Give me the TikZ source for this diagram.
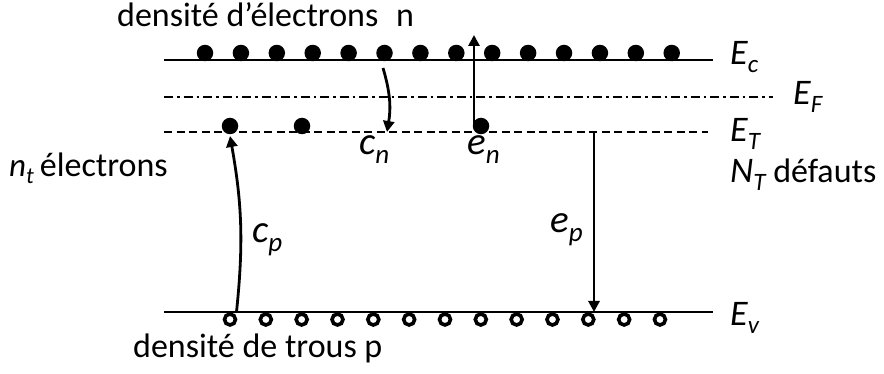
\documentclass[tikz,border=0pt]{standalone}
\usepackage{fontspec}
\setmainfont{Carlito}
\usetikzlibrary{arrows.meta}
\newcommand{\elab}[2]{{\fontsize{36}{36}\selectfont\itshape #1\raisebox{-8pt}{\fontsize{25}{25}\selectfont #2}}}
\newcommand{\nlab}[2]{{\fontsize{33}{33}\selectfont\itshape #1\raisebox{-7pt}{\fontsize{23}{23}\selectfont #2}}}
\newcommand{\clab}[2]{{\fontsize{39}{39}\selectfont\itshape #1\raisebox{-9pt}{\fontsize{27}{27}\selectfont #2}}}
\begin{document}
\begin{tikzpicture}[x=1pt,y=-1pt,
  level/.style={line width=2.6pt},
  txt/.style={anchor=base west,inner sep=0pt,font=\fontsize{34}{40}\selectfont},
  lab/.style={anchor=base west,inner sep=0pt},
  edot/.style={circle,fill=black,inner sep=0pt,minimum size=16.5pt},
  hole/.style={circle,draw=black,line width=3.6pt,fill=white,inner sep=0pt,minimum size=11pt},
  arr/.style={line width=2.8pt,-{Triangle[length=11pt,width=11pt]}}]
\useasboundingbox (0,0) rectangle (884,374);
% levels
\coordinate (EcL) at (164,60);  \coordinate (EcR) at (713,60);
\coordinate (EfL) at (164,97);  \coordinate (EfR) at (773,97);
\coordinate (EtL) at (164,132); \coordinate (EtR) at (708,132);
\coordinate (EvL) at (164,312); \coordinate (EvR) at (713,312);
\draw[level] (EcL) -- (EcR);
\draw[level,dash pattern=on 9pt off 4pt on 2.5pt off 4pt] (EfL) -- (EfR);
\draw[level,dash pattern=on 8pt off 4.5pt] (EtL) -- (EtR);
\draw[level] (EvL) -- (EvR);
% electrons in conduction band
\foreach \i in {0,...,13} \node[edot] (c\i) at (205+35.9*\i,53) {};
% electrons on traps
\node[edot] (t1) at (230,126) {};
\node[edot] (t2) at (302,126) {};
\node[edot] (t3) at (481,126) {};
% holes in valence band
\foreach \i in {0,...,12} \node[hole] (h\i) at (230+35.83*\i,319.5) {};
% arrows
\coordinate (cnS) at (383,68);
\coordinate (cnE) at (387,132);
\draw[arr] (cnS) to[bend left=13] (cnE);
\coordinate (enS) at (474,124);
\coordinate (enE) at (474,35);
\draw[arr] (enS) -- (enE);
\coordinate (epS) at (594,132);
\coordinate (epE) at (594,312);
\draw[arr] (epS) -- (epE);
\coordinate (cpS) at (236.5,312);
\coordinate (cpE) at (230,136);
\draw[arr] (cpS) to[bend right=8] (cpE);
% labels
\node[txt] (tn) at (117,27) {densité d’électrons\hspace{0.3em} n};
\node[txt] (tp) at (133,357) {densité de trous p};
\node[txt] (tnt) at (9,177) {\nlab{n}{t}\hspace{-0.05em} électrons};
\node[txt] (tdef) at (730,183) {\elab{N}{T} défauts};
\node[lab] (lEc) at (730,65) {\elab{E}{c}};
\node[lab] (lEf) at (793,105) {\elab{E}{F}};
\node[lab] (lEt) at (730,142) {\elab{E}{T}};
\node[lab] (lEv) at (730,325) {\elab{E}{v}};
\node[lab] (lcn) at (359,155) {\clab{c}{n}};
\node[lab] (len) at (467,155) {\clab{e}{n}};
\node[lab] (lcp) at (252,243) {\clab{c}{p}};
\node[lab] (lep) at (550,233) {\clab{e}{p}};
\end{tikzpicture}
\end{document}
